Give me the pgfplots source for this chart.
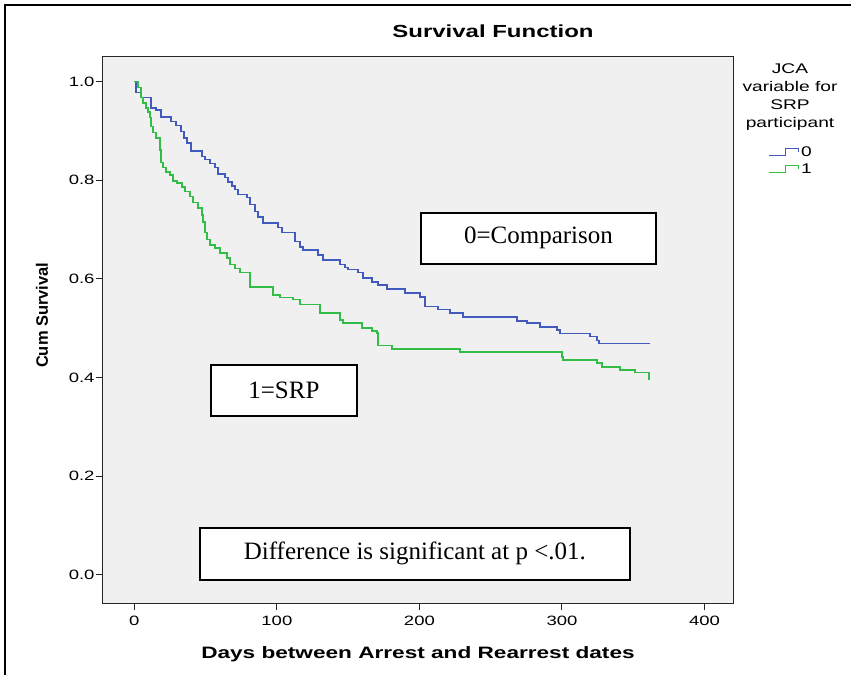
\documentclass[border=0pt]{standalone}
\usepackage{pgfplots}
\pgfplotsset{compat=1.18}
\usepackage{fontspec}
\setmainfont{Liberation Sans}
\newfontfamily\tnr{Liberation Serif}
\usepackage{graphicx}
\definecolor{bg}{RGB}{240,240,240}
\definecolor{kmblue}{RGB}{66,90,190}
\definecolor{kmgreen}{RGB}{50,190,70}
% SPSS text in the source is stretched sideways
\newcommand{\sx}[1]{\scalebox{1.37}[1]{#1}}

\begin{document}
\begin{tikzpicture}
\begin{axis}[
  scale only axis,
  clip mode=individual,
  width=630pt, height=546pt,
  xmin=-22, xmax=420, ymin=-0.057, ymax=1.050,
  axis background/.style={fill=bg},
  axis line style={black!85, line width=1pt},
  xtick={0,100,200,300,400},
  ytick={0,0.2,0.4,0.6,0.8,1.0},
  tick align=outside, tick pos=left,
  major tick length=7pt,
  tick style={black!85, line width=1pt},
  /pgf/number format/assume math mode=true,
  tick label style={font=\fontsize{13.5}{13.5}\selectfont},
  x tick label style={yshift=-3pt},
  y tick label style={xshift=2pt},
  xticklabel={\sx{\pgfmathprintnumber{\tick}}},
  yticklabel={\sx{\pgfmathprintnumber[fixed,fixed zerofill,precision=1]{\tick}}},
  title={\sx{\textbf{Survival Function}}},
  title style={font=\fontsize{17.5}{17.5}\selectfont, at={(axis description cs:0.619,1.0366)}, anchor=center},
  xlabel={\sx{\textbf{Days between Arrest and Rearrest dates}}},
  xlabel style={font=\fontsize{16.5}{16.5}\selectfont, at={(axis description cs:0.5,-0.0934)}, anchor=center},
  ylabel={\textbf{Cum Survival}},
  ylabel style={font=\fontsize{16.5}{16.5}\selectfont, at={(axis description cs:-0.0968,0.527)}, anchor=center, rotate=0},
  legend style={at={(axis description cs:1.092,0.84)}, anchor=north, draw=none, fill=none,
    font=\fontsize{14}{14}\selectfont, row sep=2pt, inner sep=0pt},
  legend cell align=left,
  legend image code/.code={\draw[#1, line width=1pt] (0pt,-3pt) -- (17pt,-3pt) -- (17pt,4pt) -- (30pt,4pt) -- (30pt,0pt);},
]
\addplot[const plot, kmblue, line width=1.6pt] coordinates {
(0,1.000) (1,0.978) (4.6,0.968) (11.6,0.947) (15.1,0.943) (18.6,0.928)
(25.6,0.919) (29.1,0.911) (32.6,0.899) (34.7,0.886) (36.8,0.876) (39.6,0.860)
(47.4,0.848) (49.5,0.842) (53,0.834) (56.5,0.826) (58.6,0.813) (63.5,0.806)
(65.6,0.797) (68.4,0.789) (70.5,0.781) (72.6,0.771) (79,0.765) (81,0.751)
(84.6,0.737) (86.7,0.726) (90.2,0.714) (100.7,0.704) (103.5,0.694) (112.6,0.676)
(116.1,0.665) (118.2,0.659) (128.8,0.649) (132.3,0.639) (144.2,0.629) (147.7,0.623)
(149.8,0.619) (156.8,0.613) (160.4,0.602) (166.7,0.594) (170.9,0.588) (177.2,0.580)
(189.8,0.572) (200.4,0.564) (203.9,0.544) (213,0.538) (221.4,0.531) (230.5,0.523)
(268.4,0.515) (275.4,0.511) (284.6,0.503) (296.5,0.497) (298.6,0.489) (319.6,0.483)
(324.6,0.475) (326,0.469) (362,0.469)
};
\addlegendentry{\sx{0}}
\addplot[const plot, kmgreen, line width=1.6pt] coordinates {
(0,1.000) (2.5,0.988) (4.6,0.968) (6,0.957) (8.1,0.947) (9.5,0.939) (10.9,0.927)
(11.6,0.909) (13,0.897) (15.1,0.886) (17.9,0.862) (18.6,0.836) (20,0.826)
(22.1,0.817) (24.9,0.811) (27,0.799) (29.8,0.795) (33.3,0.787) (35.4,0.777)
(38.9,0.767) (41.1,0.755) (44.6,0.744) (47.4,0.730) (48.1,0.716) (49.5,0.694)
(50.9,0.680) (53,0.669) (56.5,0.663) (60,0.653) (64.9,0.643) (67,0.629)
(70.5,0.621) (74,0.613) (81,0.584) (97.2,0.568) (102.1,0.562) (111.2,0.558)
(116.1,0.548) (130.2,0.531) (144.2,0.517) (146.3,0.511) (159.6,0.501) (166.7,0.495)
(170.2,0.491) (170.9,0.465) (180.7,0.458) (228.4,0.452) (300,0.442) (300.7,0.436)
(324.6,0.430) (328,0.422) (340.7,0.416) (351.2,0.410) (361,0.396) (362,0.396)
};
\addlegendentry{\sx{1}}
\node[draw, line width=1.6pt, fill=white, minimum width=235pt, minimum height=51pt,
  font=\tnr\fontsize{25}{25}\selectfont] at (axis cs:283.5,0.6826) {0=Comparison};
\node[draw, line width=1.6pt, fill=white, minimum width=146pt, minimum height=51pt,
  font=\tnr\fontsize{25}{25}\selectfont] at (axis cs:104.9,0.374) {1=SRP};
\node[draw, line width=1.6pt, fill=white, minimum width=430pt, minimum height=52pt,
  font=\tnr\fontsize{25}{25}\selectfont] at (axis cs:196.8,0.0426) {Difference is significant at p <.01.};
\node[font=\fontsize{14}{18}\selectfont, align=center, anchor=center]
  at (axis description cs:1.0905,0.927) {\sx{JCA}\\\sx{variable for}\\\sx{SRP}\\\sx{participant}};
\end{axis}
\path[use as bounding box] (-103pt,-72pt) rectangle (748pt,603pt);
\draw[line width=1.2pt] (-98pt,-72pt) -- (-98pt,598pt) -- (748pt,598pt);
\end{tikzpicture}
\end{document}
